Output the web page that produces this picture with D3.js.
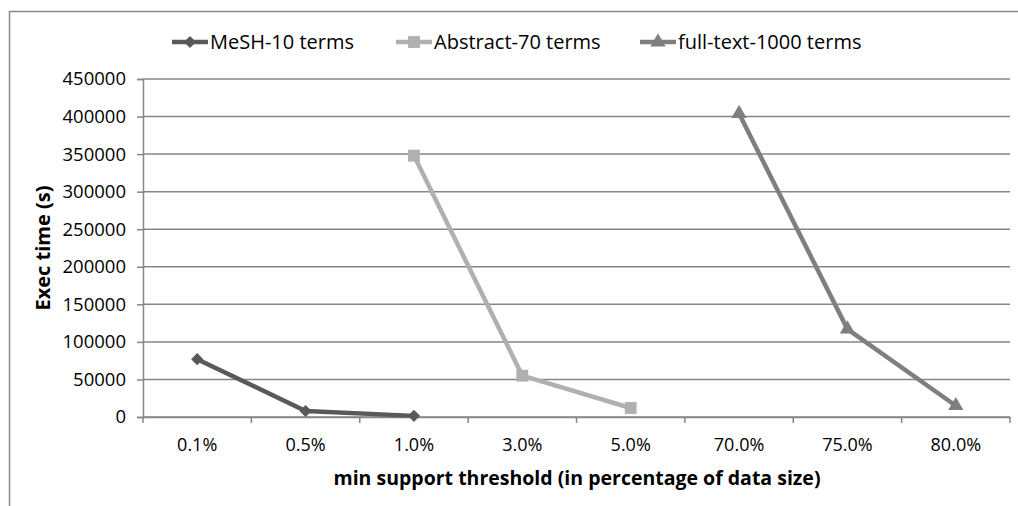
<!DOCTYPE html>
<html><head><meta charset="utf-8">
<script src="https://cdn.jsdelivr.net/npm/d3@7"></script>
<style>body{margin:0;background:#fff}svg{display:block}text{font-family:"Open Sans","Lato",sans-serif;fill:#000}</style>
</head><body><svg id="c" width="1018" height="506"></svg>
<script>
const categories = ["0.1%","0.5%","1.0%","3.0%","5.0%","70.0%","75.0%","80.0%"];
const seriesNames = ["MeSH-10 terms","Abstract-70 terms","full-text-1000 terms"];
const meshValues = [77000, 8000, 1500, null, null, null, null, null];
const abstractValues = [null, null, 348000, 55000, 12000, null, null, null];
const fulltextValues = [null, null, null, null, null, 404000, 117000, 15000];
const yTicks = [0,50000,100000,150000,200000,250000,300000,350000,400000,450000];
const colors = ["#595959","#b0b0b0","#7f7f7f"];
const markers = ["diamond","square","triangle"];

const svg = d3.select("#c");
const grid = "#868686";
svg.append("rect").attr("x",9.5).attr("y",11.5).attr("width",1030).attr("height",520)
  .attr("fill","none").attr("stroke","#8a8a8a").attr("stroke-width",1.5);

const x = d3.scaleBand().domain(categories).range([143,1010]);
const y = d3.scaleLinear().domain([0,450000]).range([417,79]);

svg.append("g").selectAll("line").data(yTicks).join("line")
  .attr("x1",143).attr("x2",1010).attr("y1",d=>y(d)).attr("y2",d=>y(d))
  .attr("stroke",grid).attr("stroke-width",1.5);

const ya = svg.append("g").attr("transform","translate(143,0)")
  .call(d3.axisLeft(y).tickValues(yTicks).tickSize(6).tickPadding(11).tickFormat(d3.format("d")));
ya.select(".domain").attr("stroke",grid).attr("stroke-width",1.5);
ya.selectAll(".tick line").attr("stroke",grid).attr("stroke-width",1.5);
ya.selectAll("text").attr("font-size",18.5).attr("font-family","Open Sans").attr("fill","#000");

const xa = svg.append("g").attr("transform","translate(0,417)")
  .call(d3.axisBottom(x).tickSize(0).tickPadding(21));
xa.select(".domain").attr("stroke",grid).attr("stroke-width",1.5);
xa.selectAll("text").attr("font-size",18).attr("font-family","Open Sans").attr("fill","#000");
const bounds = categories.map(c=>x(c)).concat([x.range()[1]]);
svg.append("g").selectAll("line").data(bounds).join("line")
  .attr("x1",d=>d).attr("x2",d=>d).attr("y1",417).attr("y2",423)
  .attr("stroke",grid).attr("stroke-width",1.5);

svg.append("text").attr("x",577).attr("y",485).attr("text-anchor","middle")
  .attr("font-size",19.5).attr("font-weight","bold").text("min support threshold (in percentage of data size)");
svg.append("text").attr("transform","translate(50,248) rotate(-90)").attr("text-anchor","middle")
  .attr("font-size",20).attr("font-weight","bold").text("Exec time (s)");

function markerPath(type){
  if(type==="diamond") return d3.symbol().type(d3.symbolDiamond2).size(95)();
  if(type==="square") return d3.symbol().type(d3.symbolSquare).size(140)();
  return d3.symbol().type(d3.symbolTriangle).size(100)();
}

const allSeries = [meshValues, abstractValues, fulltextValues];
const cx = c => x(c) + x.bandwidth()/2;
allSeries.forEach((vals,i)=>{
  const pts = categories.map((c,j)=>({c,v:vals[j]})).filter(d=>d.v!==null);
  svg.append("path").datum(pts)
    .attr("d", d3.line().x(d=>cx(d.c)).y(d=>y(d.v)))
    .attr("fill","none").attr("stroke",colors[i]).attr("stroke-width",4.5).attr("stroke-linejoin","round");
  svg.append("g").selectAll("path").data(pts).join("path")
    .attr("d", markerPath(markers[i]))
    .attr("transform", d=>`translate(${cx(d.c)},${y(d.v)})`)
    .attr("fill",colors[i]);
});

const legX = [172, 396, 640];
seriesNames.forEach((n,i)=>{
  const g = svg.append("g").attr("transform",`translate(${legX[i]},42)`);
  g.append("line").attr("x1",0).attr("x2",36).attr("y1",0).attr("y2",0)
    .attr("stroke",colors[i]).attr("stroke-width",4.5);
  g.append("path").attr("d",markerPath(markers[i])).attr("transform","translate(18,0)").attr("fill",colors[i]);
  g.append("text").attr("x",38).attr("y",7).attr("font-size",20).text(n);
});
</script></body></html>
